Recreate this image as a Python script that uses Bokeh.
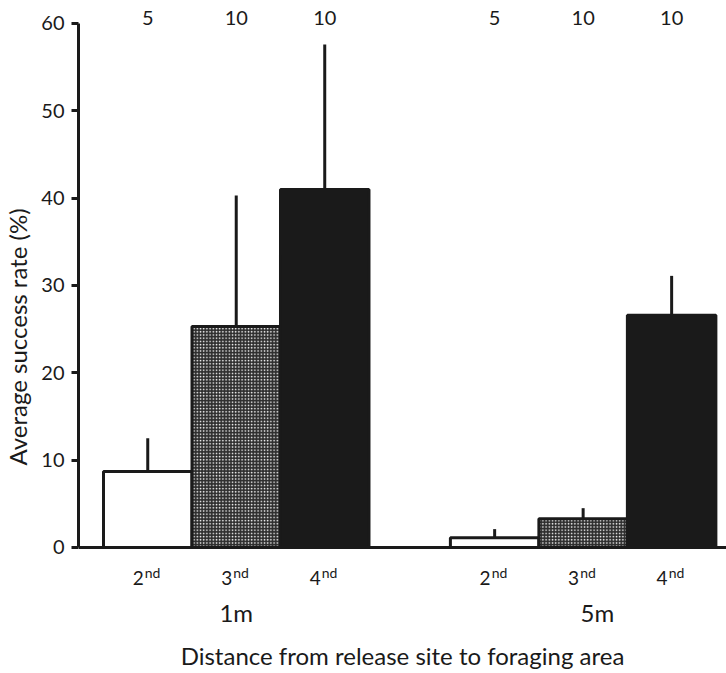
from bokeh.plotting import figure
from bokeh.models import Range1d, FixedTicker, Span, ColumnDataSource
from bokeh.core.properties import value
from bokeh.embed import file_html
from bokeh.resources import INLINE

# Success rate (%) by trial number, for the two release distances
distances = ["1m", "5m"]
trial_numbers = ["2", "3", "4"]
trial_suffixes = ["nd", "nd", "nd"]
success_1m = [8.7, 25.3, 41.0]
success_5m = [1.1, 3.3, 26.6]
error_1m = [3.8, 15.0, 16.6]
error_5m = [1.0, 1.2, 4.5]
n_1m = [5, 10, 10]
n_5m = [5, 10, 10]
y_ticks = [0, 10, 20, 30, 40, 50, 60]

FONT = "Lato"
INK = "#1a1a1a"

# layout of the grouped bars (one unit = one bar width)
group_starts = [1.0, 4.92]
group_label_shift = [0.0, 0.16]
X0, X1 = 0.2175, 7.54

xs, tops, errs, counts, fills, hatches = [], [], [], [], [], []
styles = [("white", " "), ("#2e2e2e", "."), (INK, " ")]
for g, (vals, es, ns) in enumerate([(success_1m, error_1m, n_1m), (success_5m, error_5m, n_5m)]):
    for i in range(len(trial_numbers)):
        xs.append(group_starts[g] + i)
        tops.append(vals[i])
        errs.append(es[i])
        counts.append(str(ns[i]))
        fills.append(styles[i][0])
        hatches.append(styles[i][1])

src = ColumnDataSource(dict(
    x=xs, top=tops, err_top=[t + e for t, e in zip(tops, errs)],
    n=counts, fill=fills, hatch=hatches,
    num=trial_numbers * 2, suf=trial_suffixes * 2,
))

p = figure(width=726, height=673, output_backend="svg", toolbar_location=None,
           x_range=Range1d(X0, X1), y_range=Range1d(-14.43, 62.63),
           x_axis_location=None, min_border_left=78, min_border_right=0,
           min_border_top=0, min_border_bottom=0)
p.outline_line_color = None
p.xgrid.visible = False
p.ygrid.visible = False
p.background_fill_color = "white"
p.border_fill_color = "white"

# error bars (upper only)
p.segment(x0="x", y0="top", x1="x", y1="err_top", source=src,
          line_color=INK, line_width=3)

# bars
p.vbar(x="x", top="top", bottom=0, width=1.0, source=src,
       fill_color="fill", line_color=INK, line_width=3,
       hatch_pattern="hatch", hatch_color="white", hatch_scale=3.2, hatch_weight=1.0)

# baseline at zero
p.add_layout(Span(location=0, dimension="width", line_color=INK, line_width=3))

# y axis
ax = p.yaxis[0]
ax.bounds = (0, 60)
ax.ticker = FixedTicker(ticks=y_ticks)
ax.axis_line_color = INK
ax.axis_line_width = 3
ax.major_tick_line_color = INK
ax.major_tick_line_width = 3
ax.major_tick_out = 7
ax.major_tick_in = 0
ax.minor_tick_line_color = None
ax.major_label_text_font = FONT
ax.major_label_text_font_size = "20px"
ax.major_label_text_color = INK
ax.major_label_standoff = 7
ax.axis_label = "Average success rate (%)"
ax.axis_label_text_font = FONT
ax.axis_label_text_font_style = "normal"
ax.axis_label_text_font_size = "24px"
ax.axis_label_text_color = INK
ax.axis_label_standoff = 6

# sample sizes above each bar
p.text(x="x", y=60.6, text="n", source=src, text_align="center",
       text_baseline="middle", text_font=value(FONT), text_font_size="20px",
       text_color=INK)

# trial labels with superscript ordinal
p.text(x="x", y=-3.55, text="num", source=src, text_align="right",
       text_baseline="middle", x_offset=-4, text_font=value(FONT),
       text_font_size="19px", text_color=INK)
p.text(x="x", y=-3.55, text="suf", source=src, text_align="left",
       text_baseline="middle", x_offset=-3, y_offset=-6, text_font=value(FONT),
       text_font_size="14px", text_color=INK)

# distance labels under each group
p.text(x=[s + 1 + d for s, d in zip(group_starts, group_label_shift)],
       y=[-7.4] * len(distances), text=distances, text_align="center",
       text_baseline="middle", text_font=value(FONT), text_font_size="24px",
       text_color=INK)

# x axis title
p.text(x=[(X0 + X1) / 2], y=[-12.37],
       text=["Distance from release site to foraging area"],
       text_align="center", text_baseline="middle", text_font=value(FONT),
       text_font_size="24px", text_color=INK)

open("out.html", "w").write(file_html(p, INLINE))
